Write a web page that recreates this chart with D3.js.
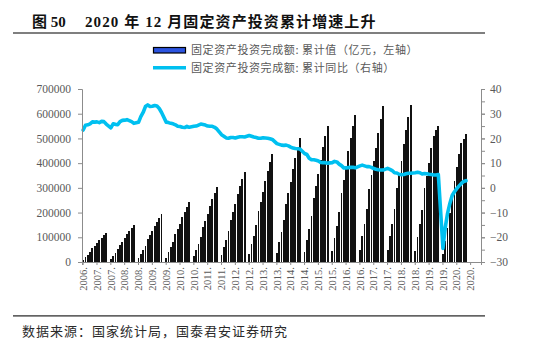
<!DOCTYPE html>
<html>
<head>
<meta charset="utf-8">
<script src="https://cdn.jsdelivr.net/npm/d3@7/dist/d3.min.js"></script>
<style>
  html, body { margin: 0; padding: 0; background: #fff; }
  svg { display: block; }
</style>
</head>
<body>
<svg id="chart" width="550" height="344"></svg>
<script>
// Fixed-asset investment, monthly cumulative, Feb 2007 – Dec 2020 (January not published: null)
const firstPeriod = "2007-02";
const lastPeriod = "2021-06"; // axis runs a few empty months past the data

// Cumulative value, 亿元
const faiCumulative = [
  /* 2007 */ 8800, 19400, 28800, 39900, 55200, 65200, 75800, 88100, 98700, 108700, 117464,
  /* 2008 */ null, 11100, 24500, 36400, 50600, 69900, 82500, 95900, 111600, 125000, 137600, 148738,
  /* 2009 */ null, 14600, 32000, 47600, 66000, 91200, 107700, 125200, 145600, 163100, 179600, 194139,
  /* 2010 */ null, 18100, 39800, 59200, 82100, 113500, 134000, 155700, 181100, 202800, 223300, 241431,
  /* 2011 */ null, 22600, 49800, 74000, 102700, 141900, 167600, 194700, 226400, 253600, 279300, 301933,
  /* 2012 */ null, 27400, 60200, 89400, 124000, 171500, 202500, 235300, 273600, 306500, 337500, 364854,
  /* 2013 */ null, 32700, 72000, 107000, 148400, 205200, 242300, 281600, 327400, 366700, 403800, 436528,
  /* 2014 */ null, 37700, 82800, 123000, 170700, 235900, 278600, 323800, 376500, 421700, 464400, 502005,
  /* 2015 */ null, 41400, 91000, 135100, 187500, 259200, 306100, 355800, 413700, 463300, 510200, 551590,
  /* 2016 */ null, 44700, 98400, 146100, 202800, 280400, 331100, 384700, 447400, 501100, 551800, 596501,
  /* 2017 */ null, 47400, 104200, 154800, 214800, 296900, 350600, 407400, 462000, 521000, 578000, 631684,
  /* 2018 */ null, 47700, 104900, 155700, 216100, 298700, 352800, 410000, 476700, 533900, 588000, 635636,
  /* 2019 */ null, 44800, 101900, 155700, 211100, 299100, 349100, 400900, 461200, 510900, 533700, 551478,
  /* 2020 */ null, 33300, 84100, 136800, 199200, 271900, 329200, 383200, 436500, 479900, 499200, 518907
];

// Cumulative year-on-year growth, %
const faiGrowth = [
  /* 2007 */ 23.4, 25.3, 25.5, 25.9, 26.7, 26.6, 26.7, 26.4, 26.9, 26.8, 25.8,
  /* 2008 */ null, 24.3, 25.9, 25.7, 25.6, 26.8, 27.3, 27.4, 27.6, 27.2, 26.8, 26.1,
  /* 2009 */ null, 26.5, 28.8, 30.5, 32.9, 33.6, 32.9, 33.0, 33.3, 33.1, 32.1, 30.5,
  /* 2010 */ null, 26.6, 26.4, 26.1, 25.9, 25.5, 24.9, 24.8, 24.5, 24.4, 24.9, 24.5,
  /* 2011 */ null, 24.9, 25.0, 25.4, 25.8, 25.6, 25.4, 25.0, 24.9, 24.9, 24.5, 23.8,
  /* 2012 */ null, 21.5, 20.9, 20.2, 20.1, 20.4, 20.4, 20.2, 20.5, 20.7, 20.7, 20.6,
  /* 2013 */ null, 21.2, 20.9, 20.6, 20.4, 20.1, 20.1, 20.3, 20.2, 20.1, 19.9, 19.6,
  /* 2014 */ null, 17.9, 17.6, 17.3, 17.2, 17.3, 17.0, 16.5, 16.1, 15.9, 15.8, 15.7,
  /* 2015 */ null, 13.9, 13.5, 12.0, 11.4, 11.4, 11.2, 10.9, 10.3, 10.2, 10.2, 10.0,
  /* 2016 */ null, 10.2, 10.7, 10.5, 9.6, 9.0, 8.1, 8.1, 8.2, 8.3, 8.3, 8.1,
  /* 2017 */ null, 8.9, 9.2, 8.9, 8.6, 8.6, 8.3, 7.8, 7.5, 7.3, 7.2, 7.2,
  /* 2018 */ null, 7.9, 7.5, 7.0, 6.1, 6.0, 5.5, 5.3, 5.4, 5.7, 5.9, 5.9,
  /* 2019 */ null, 6.1, 6.3, 6.1, 5.6, 5.8, 5.7, 5.5, 5.4, 5.2, 5.2, 5.4,
  /* 2020 */ null, -24.5, -16.1, -10.3, -6.3, -3.1, -1.6, -0.3, 0.8, 1.8, 2.6, 2.9
];

// Category-axis labels, one every six months
const xTickLabels = [
  "2006.", "2007.", "2007.", "2008.", "2008.", "2009.", "2009.", "2010.", "2010.",
  "2011.", "2011.", "2012.", "2012.", "2013.", "2013.", "2014.", "2014.", "2015.",
  "2015.", "2016.", "2016.", "2017.", "2017.", "2018.", "2018.", "2019.", "2019.",
  "2020.", "2020."
];
const leftTicks = [0, 100000, 200000, 300000, 400000, 500000, 600000, 700000];
const rightTicks = [-30, -20, -10, 0, 10, 20, 30, 40];

const titleNo = "图 50";
const titleText = "2020 年 12 月固定资产投资累计增速上升";
const legendBar = "固定资产投资完成额: 累计值（亿元，左轴）";
const legendLine = "固定资产投资完成额: 累计同比（右轴）";
const sourceText = "数据来源：国家统计局，国泰君安证券研究";

// ---- layout ----
const plot = { left: 82, right: 481, top: 89, bottom: 262 };
const axisGray = "#8c8c8c";
const labelGray = "#595959";
const serif = "'Liberation Serif', 'Times New Roman', 'Noto Sans CJK SC', serif";
const cjk = "'Liberation Serif', 'Noto Sans CJK SC', sans-serif";

const fmt = d3.timeFormat("%Y-%m");
const parse = d3.timeParse("%Y-%m");
const periods = d3.timeMonth.range(parse(firstPeriod), d3.timeMonth.offset(parse(lastPeriod), 1)).map(fmt);

const rows = faiCumulative.map((v, i) => ({ period: periods[i], value: v, growth: faiGrowth[i] }));

const svg = d3.select("#chart");
svg.append("rect").attr("width", 550).attr("height", 344).attr("fill", "#fff");

const x = d3.scaleBand().domain(periods).range([plot.left, plot.right]).paddingInner(0.2).paddingOuter(0.1);
const yL = d3.scaleLinear().domain([0, 700000]).range([plot.bottom, plot.top]);
const yR = d3.scaleLinear().domain([-30, 40]).range([plot.bottom, plot.top]);

// ---- title ----
svg.append("text").attr("x", 32).attr("y", 27)
  .attr("font-family", cjk).attr("font-weight", "bold").attr("font-size", 15).attr("fill", "#111")
  .text(titleNo);
svg.append("text").attr("x", 85).attr("y", 27)
  .attr("font-family", cjk).attr("font-weight", "bold").attr("font-size", 15).attr("fill", "#111")
  .attr("letter-spacing", 1.1)
  .text(titleText);
svg.append("rect").attr("x", 13).attr("y", 32).attr("width", 472).attr("height", 2).attr("fill", "#7f7f7f");

// ---- legend ----
const lg = svg.append("g").attr("font-family", "'Noto Sans CJK SC', sans-serif").attr("font-size", 11).attr("fill", labelGray);
lg.append("rect").attr("x", 153.5).attr("y", 47.5).attr("width", 32).attr("height", 5.5)
  .attr("fill", "#2c54e0").attr("stroke", "#000").attr("stroke-width", 1.2);
lg.append("text").attr("x", 191).attr("y", 54).attr("letter-spacing", 0.6).text(legendBar);
lg.append("line").attr("x1", 153).attr("x2", 186).attr("y1", 67.7).attr("y2", 67.7)
  .attr("stroke", "#00c0f0").attr("stroke-width", 3.5);
lg.append("text").attr("x", 191).attr("y", 71.5).attr("letter-spacing", 0.6).text(legendLine);

// ---- bars ----
svg.append("g").attr("shape-rendering", "crispEdges").selectAll("rect")
  .data(rows.filter(d => d.value != null))
  .join("rect")
  .attr("x", d => x(d.period))
  .attr("width", x.bandwidth())
  .attr("y", d => yL(d.value))
  .attr("height", d => yL(0) - yL(d.value))
  .attr("fill", "#111");

// ---- line (growth, right axis) ----
const line = d3.line().x(d => x(d.period) + x.bandwidth() / 2).y(d => yR(d.growth)).curve(d3.curveLinear);
svg.append("path")
  .datum(rows.filter(d => d.growth != null))
  .attr("d", line)
  .attr("fill", "none").attr("stroke", "#00c0f0").attr("stroke-width", 3.6)
  .attr("stroke-linejoin", "round").attr("stroke-linecap", "round");

// ---- axes ----
const leftAxis = d3.axisLeft(yL).tickValues(leftTicks).tickSize(4).tickPadding(7).tickFormat(d3.format("d"));
const gL = svg.append("g").attr("transform", `translate(${plot.left},0)`).call(leftAxis);

const rightMinor = d3.range(-30, 41, 5);
const gRm = svg.append("g").attr("transform", `translate(${plot.right},0)`)
  .call(d3.axisRight(yR).tickValues(rightMinor).tickSize(4).tickFormat(""));
const gR = svg.append("g").attr("transform", `translate(${plot.right},0)`)
  .call(d3.axisRight(yR).tickValues(rightTicks).tickSize(4).tickPadding(5).tickFormat(d3.format("d")));

const tickPeriods = xTickLabels.map((_, i) => periods[i * 6]);
const bottomAxis = d3.axisBottom(x).tickValues(tickPeriods).tickSize(3)
  .tickFormat((d, i) => xTickLabels[i]);
const gB = svg.append("g").attr("transform", `translate(0,${plot.bottom})`).call(bottomAxis);
gB.selectAll(".tick text")
  .attr("transform", "rotate(-90)")
  .attr("text-anchor", "end")
  .attr("x", -5).attr("y", 0).attr("dy", "0.35em");

[gL, gRm, gR, gB].forEach(g => {
  g.select(".domain").attr("stroke", axisGray).attr("stroke-width", 1);
  g.selectAll(".tick line").attr("stroke", axisGray);
  g.selectAll("text").attr("font-family", serif).attr("fill", labelGray);
});
gL.selectAll("text").attr("font-size", 11.5);
gR.selectAll("text").attr("font-size", 11.5);
gB.selectAll("text").attr("font-size", 10.5);
gRm.select(".domain").remove();

// ---- footer ----
svg.append("rect").attr("x", 13).attr("y", 315.3).attr("width", 472).attr("height", 1.2).attr("fill", "#222");
svg.append("text").attr("x", 22).attr("y", 336)
  .attr("font-family", "'Noto Sans CJK SC', sans-serif").attr("font-size", 13).attr("fill", "#2a2a2a")
  .attr("letter-spacing", 1)
  .text(sourceText);
</script>
</body>
</html>
